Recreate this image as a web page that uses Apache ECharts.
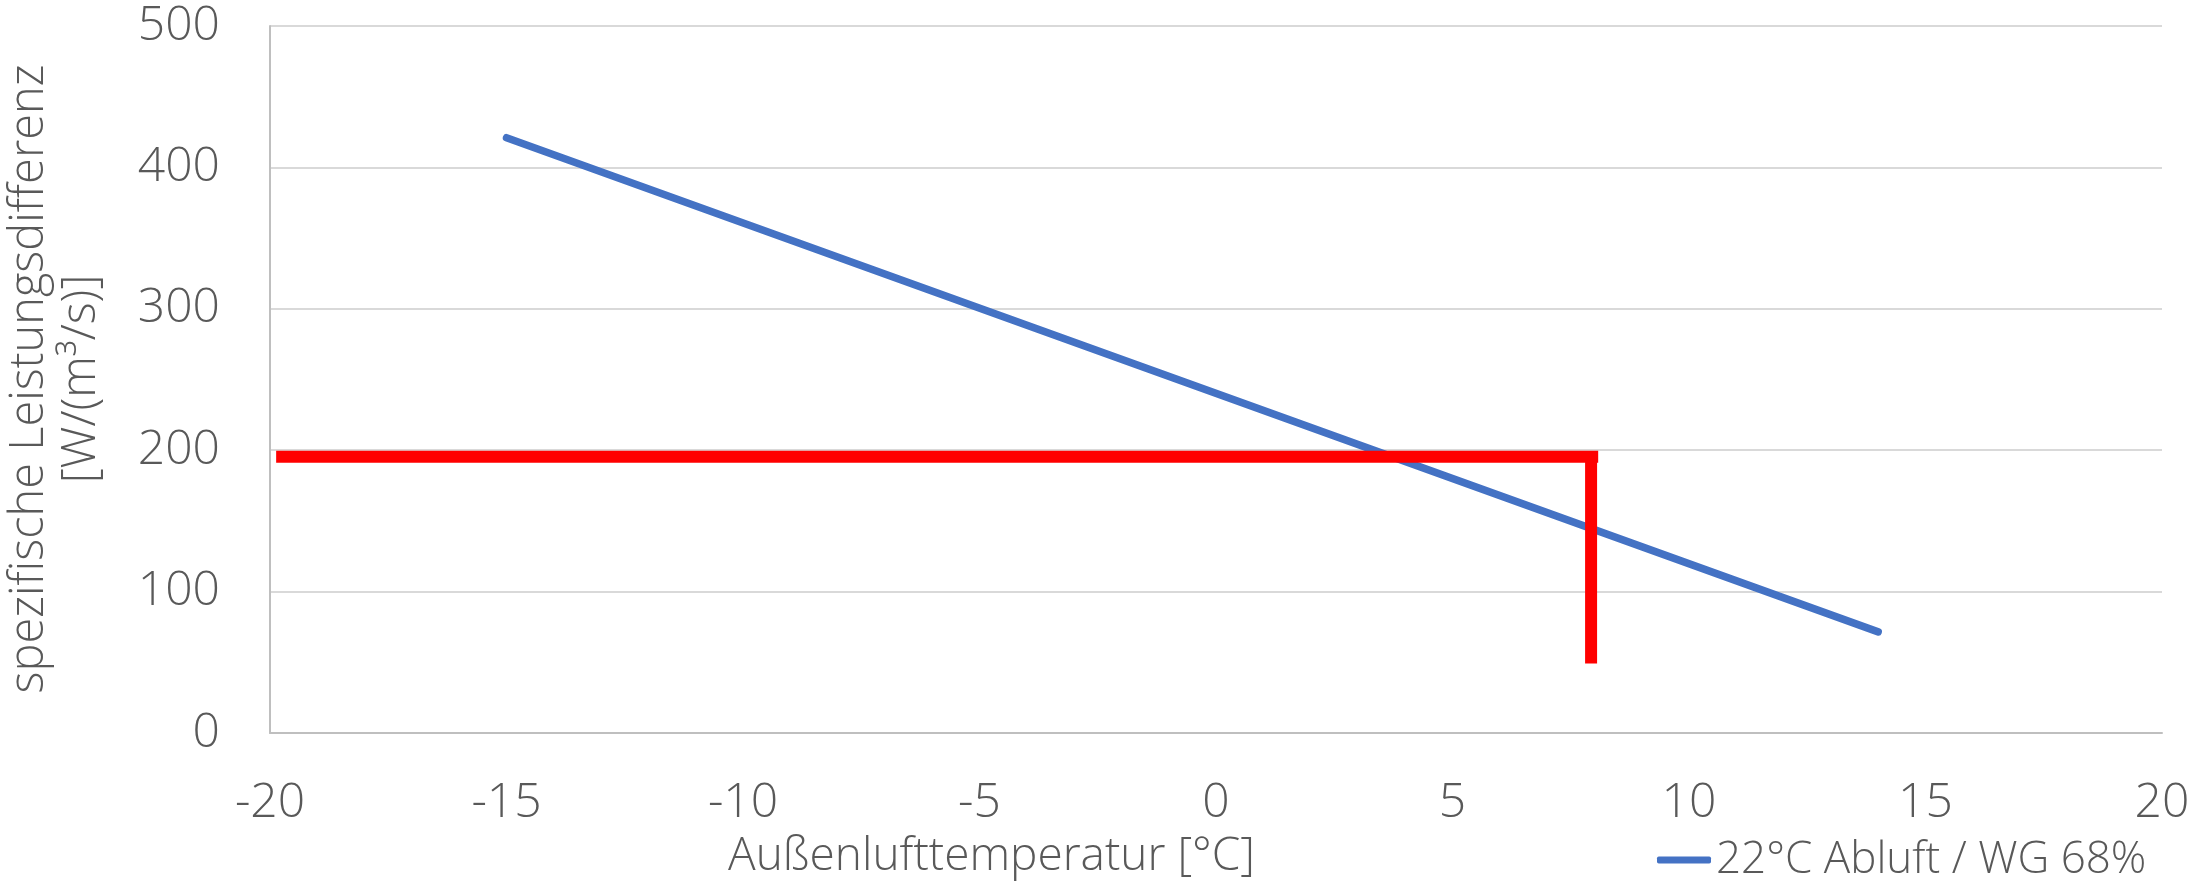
<!DOCTYPE html>
<html>
<head>
<meta charset="utf-8">
<script src="https://cdn.jsdelivr.net/npm/echarts@6/dist/echarts.min.js"></script>
<style>
  html, body { margin: 0; padding: 0; background: #fff; }
  #main { width: 2210px; height: 881px; }
</style>
</head>
<body>
<div id="main"></div>
<script>
var chart = echarts.init(document.getElementById('main'));

// Außenlufttemperatur [°C] / spezifische Leistungsdifferenz
var blueName = '22°C Abluft / WG 68%';
var blueX = [-15, 14];
var blueY = [421, 71.5];

// red marker lines (horizontal + vertical)
var redHX = [-19.87, 8.08];
var redHY = [195.3, 195.3];
var redVX = [7.93, 7.93];
var redVY = [195.3, 49.1];

var xTicks = { min: -20, max: 20, step: 5 };
var yTicks = { min: 0, max: 500, step: 100 };

function pairs(xs, ys) {
  var out = [];
  for (var i = 0; i < xs.length; i++) out.push([xs[i], ys[i]]);
  return out;
}

var font = 'Open Sans';
var grey = '#595959';

var option = {
  animation: false,
  backgroundColor: '#fff',
  grid: { left: 270, right: 48, top: 26, bottom: 148 },
  legend: {
    data: [blueName],
    left: 1652,
    top: 833,
    icon: 'roundRect',
    itemWidth: 54,
    itemHeight: 7,
    textStyle: { fontFamily: font, fontWeight: 300, fontSize: 44, color: grey }
  },
  xAxis: {
    type: 'value',
    min: xTicks.min,
    max: xTicks.max,
    interval: xTicks.step,
    axisLine: { show: true, onZero: false, lineStyle: { color: '#BFBFBF', width: 2 } },
    axisTick: { show: false },
    splitLine: { show: false },
    axisLabel: { margin: 46, fontFamily: font, fontWeight: 300, fontSize: 48, color: grey }
  },
  yAxis: {
    type: 'value',
    min: yTicks.min,
    max: yTicks.max,
    interval: yTicks.step,
    axisLine: { show: true, onZero: false, lineStyle: { color: '#BFBFBF', width: 2 } },
    axisTick: { show: false },
    splitLine: { lineStyle: { color: '#D9D9D9', width: 2 } },
    axisLabel: { margin: 50, fontFamily: font, fontWeight: 300, fontSize: 48, color: grey }
  },
  graphic: [
    {
      type: 'text',
      left: 728,
      top: 834,
      style: { text: 'Außenlufttemperatur [°C]', fontFamily: font, fontWeight: 300, fontSize: 46, fill: grey }
    },
    {
      type: 'text',
      x: 56,
      y: 379,
      rotation: Math.PI / 2,
      style: {
        text: 'spezifische Leistungsdifferenz\n[W/(m³/s)]',
        fontFamily: font,
        fontWeight: 300,
        fontSize: 47,
        lineHeight: 52,
        fill: grey,
        align: 'center',
        verticalAlign: 'middle'
      }
    }
  ],
  series: [
    {
      name: blueName,
      type: 'line',
      symbol: 'none',
      data: pairs(blueX, blueY),
      lineStyle: { color: '#4472C4', width: 7.5, cap: 'round' },
      itemStyle: { color: '#4472C4' }
    },
    {
      name: 'rot waagerecht',
      type: 'line',
      symbol: 'none',
      clip: false,
      data: pairs(redHX, redHY),
      lineStyle: { color: '#FF0000', width: 12, cap: 'butt' }
    },
    {
      name: 'rot senkrecht',
      type: 'line',
      symbol: 'none',
      clip: false,
      data: pairs(redVX, redVY),
      lineStyle: { color: '#FF0000', width: 12, cap: 'butt' }
    }
  ]
};

chart.setOption(option);
</script>
</body>
</html>
